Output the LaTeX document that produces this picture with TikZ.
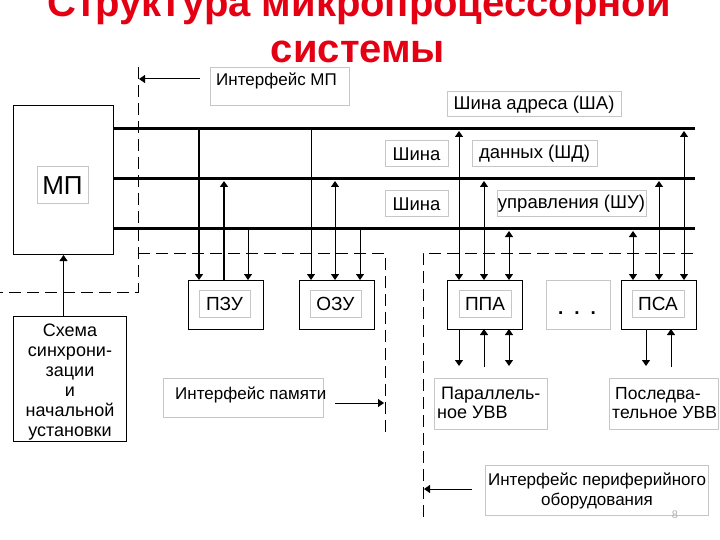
\documentclass[tikz,border=0pt]{standalone}
\usepackage{fontspec}
\setmainfont{Liberation Sans}
\usetikzlibrary{arrows.meta}
\definecolor{titred}{RGB}{228,0,18}
\begin{document}
\begin{tikzpicture}[x=1pt,y=-1pt,
  mbox/.style={draw=black, line width=1pt, minimum width=75pt, minimum height=49pt, anchor=north west, inner sep=0pt},
  gbox/.style={draw=gray!45, line width=1pt, inner sep=0pt},
  lab/.style={font=\fontsize{18}{20}\selectfont, inner sep=0pt},
  slab/.style={font=\fontsize{17}{20}\selectfont, inner sep=0pt},
  ttl/.style={font=\fontsize{40}{44}\selectfont\bfseries, text=titred, inner sep=0pt},
  busline/.style={line width=3pt},
  arr/.style={line width=1pt, -{Triangle[width=8pt,length=6pt]}},
  tarr/.style={line width=2pt, -{Triangle[width=8pt,length=6pt]}},
  darr/.style={line width=1pt, {Triangle[width=8pt,length=6pt]}-{Triangle[width=8pt,length=6pt]}},
  dsh/.style={line width=1pt, dash pattern=on 12pt off 6pt}
]
\useasboundingbox (0,0) rectangle (720,540);

% title
\node[ttl, anchor=base] (t1) at (359,17) {Структура микропроцессорной};
\node[ttl, anchor=base] (t2) at (358,63) {системы};

% interface MP
\node[gbox, minimum width=139pt, minimum height=38pt, anchor=north west] (imp) at (210,67) {};
\node[slab, anchor=base west] (imptxt) at (216,86) {Интерфейс МП};
\coordinate (impend) at (139,79);
\draw[arr] (imp.west |- impend) ++(-10,0) -- (impend);
\draw[dsh] (138,67) -- (138,292) -- (0,292);

% MP
\node[mbox, minimum width=100pt, minimum height=149pt] (mp) at (13,105) {};
\node[gbox, minimum width=51pt, minimum height=37pt, font=\fontsize{26}{28}\selectfont] (mptxt) at (62.5,185.5) {МП};

% buses
\draw[busline] (113,129) -- (695,129);
\draw[busline] (113,179) -- (695,179);
\draw[busline] (113,229) -- (695,229);

% bus labels
\node[gbox, lab, font=\fontsize{18.5}{20}\selectfont, minimum width=174pt, minimum height=25pt] (sa) at (534,104.5) {Шина адреса (ША)};
\node[gbox, lab, font=\fontsize{18.5}{20}\selectfont, minimum width=63pt, minimum height=26pt] (sh1) at (416.5,154) {Шина};
\node[gbox, lab, font=\fontsize{18.5}{20}\selectfont, minimum width=125pt, minimum height=26pt] (sd) at (534.5,154) {данных (ШД)};
\node[gbox, lab, font=\fontsize{18.5}{20}\selectfont, minimum width=63pt, minimum height=26pt] (sh2) at (416.5,204) {Шина};
\node[gbox, lab, font=\fontsize{18.5}{20}\selectfont, minimum width=149pt, minimum height=26pt] (su) at (571.5,204) {управления (ШУ)};

% dashed interface lines
\draw[dsh] (138,253) -- (385,253) -- (385,432);
\draw[dsh] (693,253) -- (423,253) -- (423,518);

% module boxes
\node[mbox] (pzu) at (188,280) {};
\node[gbox, minimum width=51pt, minimum height=27pt, font=\fontsize{19}{22}\selectfont] (pzut) at (224.5,303.5) {ПЗУ};
\node[mbox] (ozu) at (299,280) {};
\node[gbox, minimum width=51pt, minimum height=27pt, font=\fontsize{19}{22}\selectfont] (ozut) at (335.5,303.5) {ОЗУ};
\node[mbox] (ppa) at (447,280) {};
\node[gbox, minimum width=52pt, minimum height=27pt, font=\fontsize{19}{22}\selectfont] (ppat) at (485,303.5) {ППА};
\node[gbox, minimum width=64pt, minimum height=49pt, anchor=north west] (dots) at (546,280) {};
\node[font=\fontsize{19}{22}\selectfont\bfseries, inner sep=0pt, anchor=base] (dotst) at (577,314) {.\hspace{11pt}.\hspace{11pt}.};
\node[mbox] (psa) at (621,280) {};
\node[gbox, minimum width=52pt, minimum height=27pt, font=\fontsize{19}{22}\selectfont] (psat) at (658,303.5) {ПСА};

% connectors PZU
\draw[tarr] (199,129) -- (199,280);
\draw[tarr] (224,280) -- (224,181);
\draw[arr] (248,229) -- (248,280);
% OZU
\draw[arr] (311,129) -- (311,280);
\draw[darr] (335,181) -- (335,280);
\draw[arr] (360,229) -- (360,280);
% PPA
\draw[darr] (459,131) -- (459,280);
\draw[darr] (484,181) -- (484,280);
\draw[darr] (509,231) -- (509,280);
% PSA
\draw[darr] (633,231) -- (633,280);
\draw[darr] (659,181) -- (659,280);
\draw[darr] (684,131) -- (684,280);

% below PPA / PSA
\draw[arr] (459,329) -- (459,366);
\draw[arr] (484,367) -- (484,329);
\draw[darr] (509,329) -- (509,366);
\draw[arr] (646,329) -- (646,366);
\draw[arr] (671,367) -- (671,329);

% IO devices
\node[gbox, minimum width=113pt, minimum height=51pt, anchor=north west] (puvv) at (434,378) {};
\node[lab, anchor=base west] (puvv1) at (441,399) {Параллель-};
\node[lab, anchor=base west] (puvv2) at (437,418) {ное УВВ};
\node[gbox, minimum width=109pt, minimum height=51pt, anchor=north west] (suvv) at (609,378) {};
\node[lab, font=\fontsize{17.5}{20}\selectfont, anchor=base west] (suvv1) at (615,399) {Последва-};
\node[lab, font=\fontsize{17.5}{20}\selectfont, anchor=base west] (suvv2) at (612,418) {тельное УВВ};

% peripheral interface
\node[gbox, minimum width=223pt, minimum height=50pt, anchor=north west] (iper) at (485,465) {};
\node[slab, anchor=base] (iper1) at (597,485) {Интерфейс периферийного};
\node[slab, anchor=base] (iper2) at (597,505) {оборудования};
\draw[arr] (472,489) -- (424,489);

% memory interface
\node[gbox, minimum width=160pt, minimum height=39pt, anchor=north west] (imem) at (163,378) {};
\node[slab, anchor=base west] (imemt) at (175,399) {Интерфейс памяти};
\draw[arr] (335,403) -- (384,403);

% sync scheme
\node[mbox, minimum width=113pt, minimum height=125pt] (sch) at (13,316) {};
\node[lab, align=center, anchor=north] (scht) at (70,324) {Схема\\синхрони-\\зации\\и\\начальной\\установки};
\draw[arr] (sch.north -| mp.south) -- (mp.south);

% page number
\node[font=\fontsize{11}{13}\selectfont, text=gray!60, inner sep=0pt] (pg) at (675,515) {8};
\end{tikzpicture}
\end{document}
